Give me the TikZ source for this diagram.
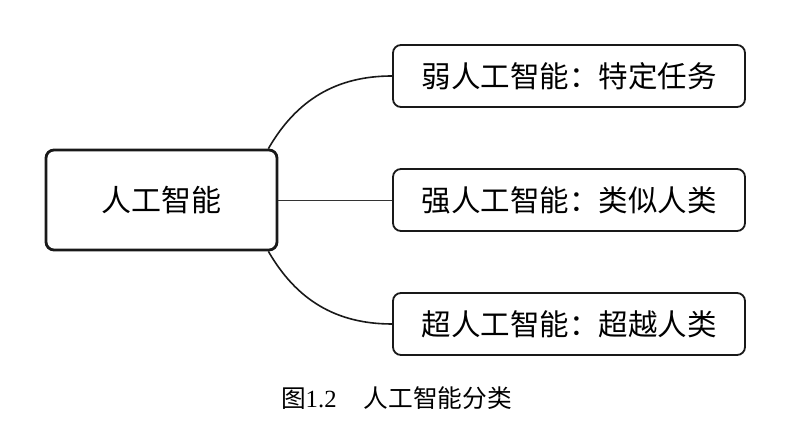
\documentclass[tikz,border=0pt]{standalone}
\usepackage{fontspec}
\setmainfont{Liberation Serif}
\newfontfamily\cjk{Noto Sans CJK SC}
\begin{document}
\begin{tikzpicture}[x=1pt,y=1pt,
  mainbox/.style={draw=black!90, line width=2.8pt, rounded corners=8pt, fill=white,
    minimum width=231pt, minimum height=100pt, inner sep=0pt, font=\cjk\fontsize{30}{32}\selectfont},
  subbox/.style={draw=black!90, line width=1.8pt, rounded corners=8pt, fill=white,
    minimum width=352pt, minimum height=62pt, inner sep=0pt, font=\cjk\fontsize{29.5}{32}\selectfont},
  link/.style={draw=black!90, line width=1.6pt},
  thinlink/.style={draw=black!80, line width=0.8pt}]
\useasboundingbox (0,0) rectangle (802,446);
\node[mainbox] (c) at (161.5,246) {人工智能};
\node[subbox] (w) at (569,370) {弱人工智能：特定任务};
\node[subbox] (s) at (569,246) {强人工智能：类似人类};
\node[subbox] (u) at (569,122) {超人工智能：超越人类};
\draw[link] ([xshift=-10pt]c.north east) to[out=60,in=180] (w.west);
\draw[thinlink] (c.east) -- (s.west);
\draw[link] ([xshift=-10pt]c.south east) to[out=-60,in=180] (u.west);
\node[font=\fontsize{24.7}{27}\selectfont] (cap) at (396.5,48) {{\cjk 图}1.2\hspace{1.1em}{\cjk 人工智能分类}};
\end{tikzpicture}
\end{document}
